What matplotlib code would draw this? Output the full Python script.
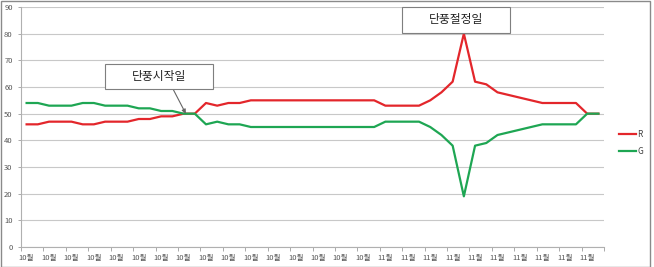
import matplotlib
matplotlib.use("Agg")
import matplotlib.pyplot as plt
from matplotlib.patches import Rectangle

plt.rcParams['font.family'] = ['Noto Sans CJK KR', 'DejaVu Sans']

# 52 daily points, one label for every two points
month_labels = ["10월"] * 16 + ["11월"] * 10
R = [46, 46, 47, 47, 47, 46, 46, 47, 47, 47, 48, 48, 49, 49, 50, 50,
     54, 53, 54, 54, 55, 55, 55, 55, 55, 55, 55, 55, 55, 55, 55, 55,
     53, 53, 53, 53, 55, 58, 62, 80, 62, 61, 58, 57, 56, 55, 54, 54,
     54, 54, 50, 50]
G = [54, 54, 53, 53, 53, 54, 54, 53, 53, 53, 52, 52, 51, 51, 50, 50,
     46, 47, 46, 46, 45, 45, 45, 45, 45, 45, 45, 45, 45, 45, 45, 45,
     47, 47, 47, 47, 45, 42, 38, 19, 38, 39, 42, 43, 44, 45, 46, 46,
     46, 46, 50, 50]
y_ticks = [0, 10, 20, 30, 40, 50, 60, 70, 80, 90]
start_label = "단풍시작일"
peak_label = "단풍절정일"

W, H = 654, 267
fig = plt.figure(figsize=(W / 100, H / 100), dpi=100)
ax = fig.add_axes([21 / W, 1 - 247 / H, (604 - 21) / W, (247 - 7) / H])

x = list(range(len(R)))
ax.plot(x, R, color="#e3262b", lw=1.6, label="R", zorder=3, solid_joinstyle="round")
ax.plot(x, G, color="#1ea653", lw=1.6, label="G", zorder=4, solid_joinstyle="round")

ax.set_xlim(-0.5, len(R) - 0.5)
ax.set_ylim(0, 90)
ax.set_yticks(y_ticks)
ax.grid(axis="y", color="#c8c8c8", lw=0.8)
ax.set_axisbelow(True)

ax.set_xticks(range(0, len(R), 2))
ax.set_xticklabels(month_labels)
ax.set_xticks([i - 0.5 for i in range(0, len(R) + 1, 2)], minor=True)
ax.tick_params(axis="x", which="major", length=0, pad=5, labelsize=5.5, labelcolor="#555555")
ax.tick_params(axis="x", which="minor", length=3, color="#aaaaaa", width=0.7)
ax.tick_params(axis="y", length=2, color="#aaaaaa", width=0.7, pad=4, labelsize=5.5, labelcolor="#555555")

for s in ["top", "right"]:
    ax.spines[s].set_visible(False)
for s in ["left", "bottom"]:
    ax.spines[s].set_color("#b0b0b0")
    ax.spines[s].set_linewidth(0.8)


def px(xp, yp):
    return (xp / W, 1 - yp / H)


def callout_box(x0, y0, x1, y1, text):
    bl = px(x0, y1)
    fig.patches.append(Rectangle(bl, (x1 - x0) / W, (y1 - y0) / H, transform=fig.transFigure,
                                 fc="white", ec="#7f7f7f", lw=0.8, zorder=5))
    cx, cy = px((x0 + x1) / 2, (y0 + y1) / 2)
    fig.text(cx, cy, text, ha="center", va="center", fontsize=8.5, color="#222222", zorder=6)


# annotation: start day (arrow points at the data point where the lines meet)
ax.annotate("", xy=(14.2, 50), xycoords="data",
            xytext=px(173, 89), textcoords="figure fraction",
            arrowprops=dict(arrowstyle="-|>", color="#666666", lw=0.8,
                            mutation_scale=6, shrinkA=0, shrinkB=0), zorder=5)
callout_box(105, 64, 213, 89, start_label)
# annotation: peak day
callout_box(402, 7, 510, 33, peak_label)

leg = fig.legend(loc="upper left", bbox_to_anchor=(615 / W, 1 - 126 / H), frameon=False,
                 fontsize=6, handlelength=2.0, handletextpad=0.15, labelspacing=0.95,
                 borderpad=0)
for t in leg.get_texts():
    t.set_color("#444444")

# outer border
fig.patches.append(Rectangle((0.5 / W, 0), (650 - 0.5) / W, 1 - 1 / H, transform=fig.transFigure,
                             fill=False, ec="#8a8a8a", lw=1.0))

fig.savefig("out.png", dpi=100)
